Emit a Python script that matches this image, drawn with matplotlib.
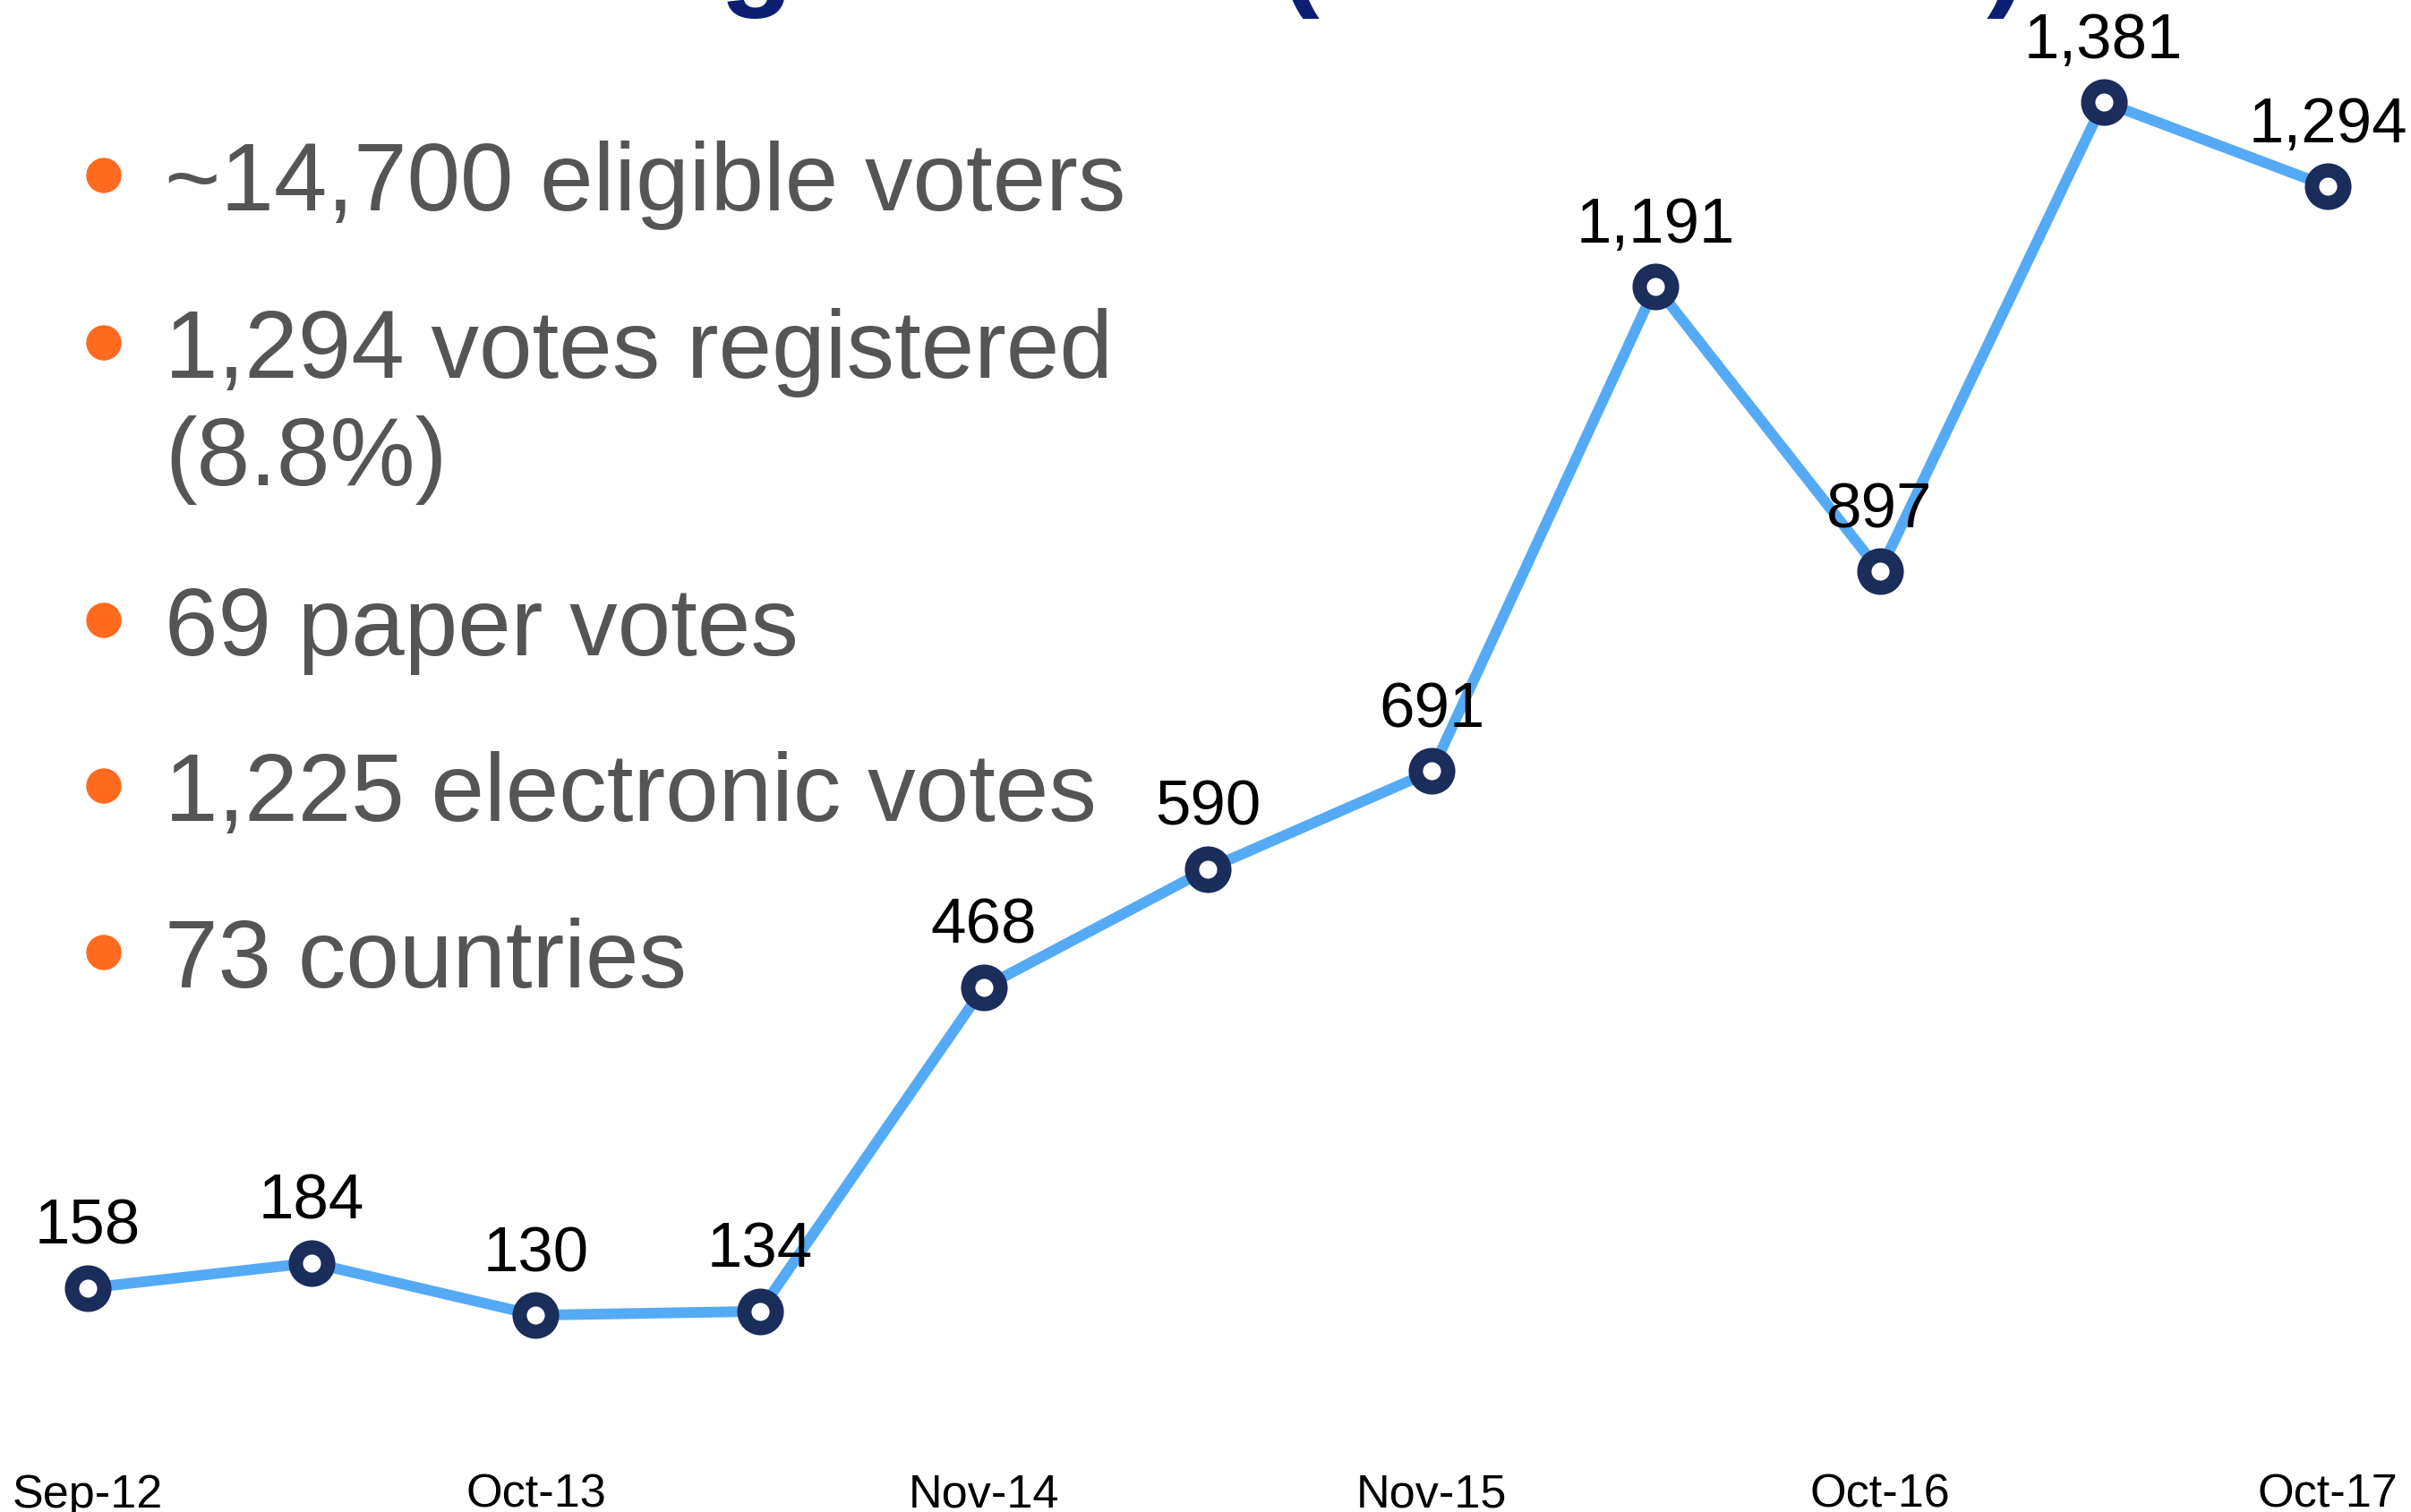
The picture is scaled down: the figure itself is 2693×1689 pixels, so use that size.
import matplotlib
matplotlib.use("Agg")
import matplotlib.pyplot as plt
from matplotlib.patches import Circle

# votes registered per election
dates = ["Sep-12", "", "Oct-13", "", "Nov-14", "", "Nov-15", "", "Oct-16", "", "Oct-17"]
votes = [158, 184, 130, 134, 468, 590, 691, 1191, 897, 1381, 1294]

facts = [["~14,700 eligible voters"],
         ["1,294 votes registered", "(8.8%)"],
         ["69 paper votes"],
         ["1,225 electronic votes"],
         ["73 countries"]]
fact_baselines = [235, 422, 732, 917, 1103]  # px from top
line_step = 120

plt.rcParams['font.family'] = ['Liberation Sans', 'DejaVu Sans']

W, H = 2693, 1690
fig = plt.figure(figsize=(W / 100, H / 100), dpi=100)
ax = fig.add_axes([0, 79 / H, 1, 1 - 79 / H])

x = list(range(len(votes)))
ax.plot(x, votes, color='#55aaf6', lw=8.6, zorder=2,
        marker='o', ms=26, mew=11.5, mec='#1b2d5b', mfc='white')

for xi, v in zip(x, votes):
    ax.annotate(f"{v:,}", (xi, v), xytext=(0, 36), textcoords='offset points',
                ha='center', va='baseline', fontsize=51, color='black', zorder=3)

ax.set_xlim(-98 / 250.2, 10 + 93 / 250.2)
ax.set_ylim(0, 1487)
ax.set_xticks(x[::2])
ax.set_xticklabels(dates[::2], fontsize=37.5)
ax.tick_params(axis='x', length=0, pad=25)
ax.set_yticks([])
for s in ax.spines.values():
    s.set_visible(False)

# bullet list on the left
for lines, yb in zip(facts, fact_baselines):
    for i, txt in enumerate(lines):
        fig.text(184 / W, 1 - (yb + i * line_step) / H, txt, fontsize=77,
                 color='#555555', va='baseline', ha='left')
    fig.add_artist(Circle((116 / 100, (H - yb + 38) / 100), 0.19,
                          transform=fig.dpi_scale_trans, color='#ff6a1e'))

# title, mostly cut off at the top edge
fig.text(479 / W, 1 + 7 / H, "Voting Growth (2012 \u2013 2017)", fontsize=96.5,
         fontweight='bold', color='#0c1f73', ha='left', va='baseline')

fig.savefig("out.png", dpi=100)
